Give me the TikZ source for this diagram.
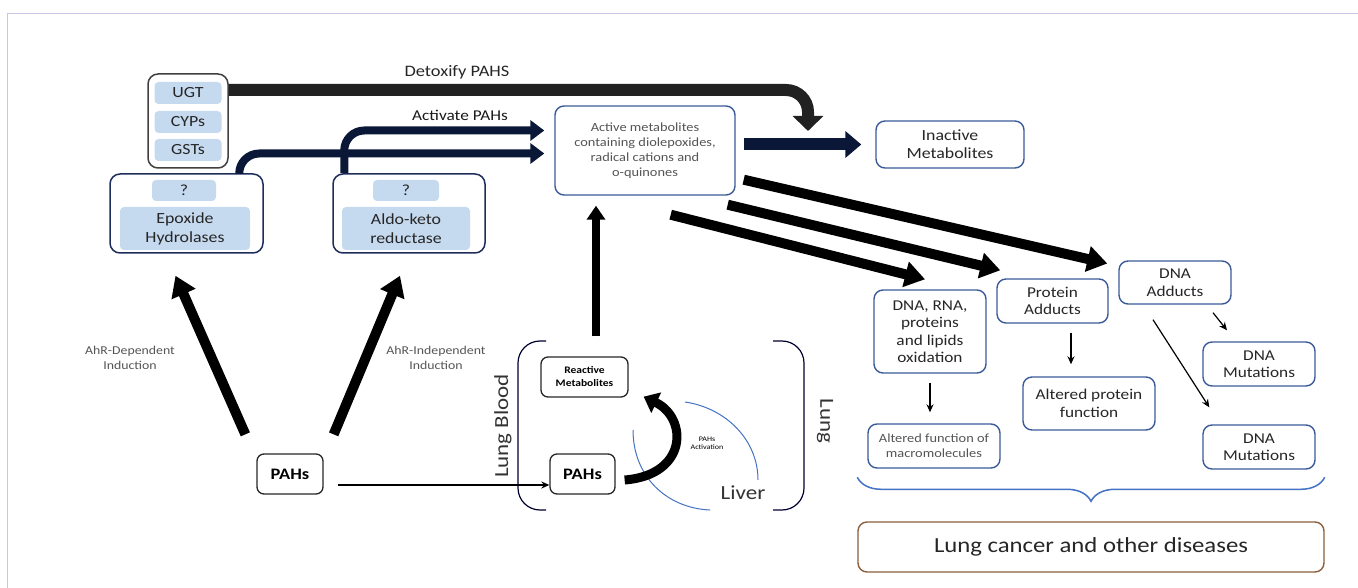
\documentclass[tikz,border=0pt]{standalone}
\usepackage{fontspec}
\setmainfont{Carlito}[FakeStretch=1.15]
\usetikzlibrary{arrows.meta,decorations.pathreplacing}

\definecolor{navy}{HTML}{0B1736}
\definecolor{boxblue}{HTML}{3B5A98}
\definecolor{darkblue}{HTML}{1F2D5A}
\definecolor{lightfill}{HTML}{C5D9EF}
\definecolor{txtgray}{HTML}{555555}
\definecolor{brown}{HTML}{8B5E3C}
\definecolor{liverblue}{HTML}{4472C4}
\definecolor{framecol}{HTML}{C8C8E6}

\newcommand{\fs}[2]{\fontsize{#1}{#2}\selectfont}

\tikzset{
  box/.style={draw=boxblue, line width=1.4pt, rounded corners=9pt, align=center, inner sep=1pt, text=black!85, font=\fs{15}{17.5}},
  grpbox/.style={draw=darkblue, line width=1.5pt, rounded corners=10pt},
  inbox/.style={fill=lightfill, rounded corners=4pt, align=center, inner sep=1pt, text=black!85, font=\fs{15.5}{19}},
  pahbox/.style={draw=black!85, line width=1.3pt, rounded corners=7pt, align=center, inner sep=1pt},
  lbl/.style={align=center, text=txtgray, font=\fs{12}{15}},
  fat/.style={line width=10pt, -{Triangle[length=20pt,width=25pt]}},
  act/.style={navy, line width=8pt, rounded corners=20pt, -{Triangle[length=14pt,width=20pt]}},
  thin/.style={line width=1.2pt, -{Stealth[length=8pt,width=7pt]}},
}

\begin{document}
\begin{tikzpicture}[x=1pt,y=-1pt]
\useasboundingbox (0,0) rectangle (1358,588);
\draw[framecol, line width=1pt] (7,588) -- (7,14) -- (1358,14);

% enzymes
\node[grpbox, draw=black!75, minimum width=80, minimum height=94] (enz) at (188,121) {};
\node[inbox, minimum width=67, minimum height=22] (ugt) at (188,93) {UGT};
\node[inbox, minimum width=67, minimum height=22] (cyp) at (188,122) {CYPs};
\node[inbox, minimum width=67, minimum height=22] (gst) at (188,150) {GSTs};

\node[grpbox, minimum width=153, minimum height=79] (epo) at (186.5,213.5) {};
\node[inbox, minimum width=64, minimum height=21] (epoq) at (184,190.5) {?};
\node[inbox, minimum width=130, minimum height=43] (epoin) at (185,228.5) {Epoxide\\Hydrolases};

\node[grpbox, minimum width=152, minimum height=79] (ald) at (409,213.5) {};
\node[inbox, minimum width=66, minimum height=21] (aldq) at (406,190.5) {?};
\node[inbox, minimum width=128, minimum height=43] (aldin) at (406,228.5) {Aldo-keto\\reductase};

% metabolites
\node[box, minimum width=180, minimum height=89, text=txtgray, font=\fs{12.5}{15}] (met) at (645,150.5)
  {Active metabolites\\containing diolepoxides,\\radical cations and\\o-quinones};
\node[box, minimum width=148, minimum height=47, font=\fs{15.5}{18}] (inact) at (950,144.5) {Inactive\\Metabolites};

\node[box, minimum width=112, minimum height=83] (rna) at (930,331.5) {DNA, RNA,\\proteins\\and lipids\\oxidation};
\node[box, minimum width=111, minimum height=44] (prot) at (1052.5,301) {Protein\\Adducts};
\node[box, minimum width=112, minimum height=43] (dadd) at (1175,282.5) {DNA\\Adducts};
\node[box, minimum width=132, minimum height=44, text=txtgray, font=\fs{12.5}{15}] (altfun) at (934,446) {Altered function of\\macromolecules};
\node[box, minimum width=132, minimum height=53] (altprot) at (1089,403.5) {Altered protein\\function};
\node[box, minimum width=112, minimum height=44] (mut1) at (1259,364) {DNA\\Mutations};
\node[box, minimum width=112, minimum height=44] (mut2) at (1259,447) {DNA\\Mutations};
\node[box, draw=brown, minimum width=466, minimum height=50, font=\fs{21.5}{24}] (canc) at (1091,547) {Lung cancer and other diseases};

% PAHs
\node[pahbox, minimum width=66, minimum height=40, font=\bfseries\fs{16}{18}] (pahl) at (290,474) {PAHs};
\node[pahbox, minimum width=65, minimum height=40, font=\bfseries\fs{16}{18}] (pahr) at (582.5,474) {PAHs};
\node[pahbox, minimum width=87, minimum height=40, font=\bfseries\fs{10}{13}] (reac) at (584.5,377) {Reactive\\Metabolites};

% lung compartment
\draw[black!70!blue!60!black, line width=1.2pt, rounded corners=22pt] (546,341) -- (518,341) -- (518,510) -- (546,510);
\draw[black!70!blue!60!black, line width=1.2pt, rounded corners=22pt] (773,341) -- (804,341) -- (804,510) -- (773,510);
\node[rotate=90, font=\fs{20}{22}, text=black!80] (lblood) at (503,426) {Lung Blood};
\node[rotate=-90, font=\fs{20}{22}, text=black!80] (lung) at (825,421) {Lung};
\draw[liverblue, line width=1pt] (685,402) .. controls (726,408) and (758,440) .. (758,480);
\draw[liverblue, line width=1pt] (633,430) .. controls (633,476) and (666,508) .. (710,510);
\node[font=\fs{20}{22}, text=black!80] (liver) at (743,493) {Liver};
\node[align=center, font=\fs{7}{8}] (actlbl) at (707,443) {PAHs\\Activation};

% arrows
\draw[line width=12pt, black!87, rounded corners=22pt, -{Triangle[length=15pt,width=30pt]}]
  ([yshift=3]ugt.east -| enz.east) -| (808,131);
\node[font=\fs{16}{18}, text=black!85] (detox) at (457,72) {Detoxify PAHS};
\node[font=\fs{15}{17}, text=black!90] (actv) at (460,115) {Activate PAHs};
\draw[act] ([xshift=12]ald.north west) |- ([shift={(-10,-20)}]met.west);
\draw[act] ([xshift=130]epo.north west) |- ([shift={(-10,3)}]met.west);
\draw[navy, line width=12pt, -{Triangle[length=16pt,width=26pt]}] (met.east |- inact) ++(8,0) -- ([xshift=-14]inact.west);

\draw[fat] ([shift={(-65,19)}]met.south east) -- ([shift={(-5,-10)}]rna.north);
\draw[fat] ([shift={(-8,9)}]met.south east) -- ([shift={(4,-8)}]prot.north west);
\draw[fat] ([shift={(8,-16)}]met.south east) -- ([shift={(-11,-19)}]dadd.west);

\draw[thin] ([yshift=-9]rna.south) -- ([yshift=11]altfun.north -| rna.south);
\draw[thin] ([shift={(18.5,9)}]prot.south) -- ([shift={(-18,-12)}]altprot.north);
\draw[thin] ([shift={(38,8)}]dadd.south) -- ([shift={(-32,-11)}]mut1.north);
\draw[thin] ([shift={(-22,15)}]dadd.south) -- ([shift={(7,-17)}]mut2.north west);

\draw[decorate, decoration={brace, mirror, amplitude=24pt}, liverblue, line width=1.5pt]
  ([yshift=44]canc.north west) -- ([yshift=44]canc.north east);

\draw[fat] ([shift={(-11,-19)}]pahl.north west) -- ([shift={(-11,22)}]epo.south);
\draw[fat] ([shift={(10,-19)}]pahl.north east) -- ([shift={(-9,22)}]ald.south);
\node[lbl] (ahrd) at (130,358) {AhR-Dependent\\Induction};
\node[lbl] (ahri) at (436,358) {AhR-Independent\\Induction};

\draw[thin, line width=1.3pt] ([shift={(14,11)}]pahl.east) -- ([yshift=-11]pahr.west);
\draw[line width=8pt, -{Triangle[length=14pt,width=18pt]}] ([shift={(11.5,-20)}]reac.north) -- ([shift={(-49,10)}]met.south);
\draw[line width=9pt, -{Triangle[length=14pt,width=22pt]}]
  ([shift={(9,6)}]pahr.east) .. controls (688,475) and (688,418) .. ([shift={(15,-1)}]reac.south east);
\end{tikzpicture}
\end{document}
